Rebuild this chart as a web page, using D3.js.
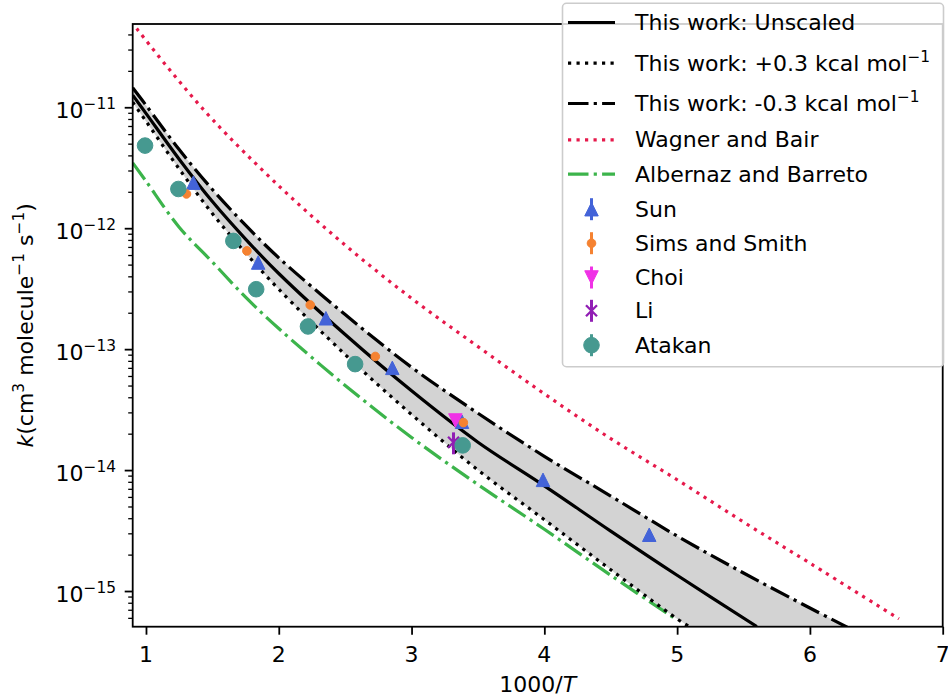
<!DOCTYPE html>
<html><head><meta charset="utf-8">
<script src="https://cdn.jsdelivr.net/npm/d3@7"></script>
<style>
body{margin:0;background:#fff}
svg{display:block}
text{font-family:"DejaVu Sans",sans-serif;fill:#000}
</style>
</head><body>
<svg id="chart" width="948" height="696"></svg>
<script>
// ---------------- data ----------------
const xTickValues = [1, 2, 3, 4, 5, 6, 7];
const yTickExponents = [-11, -12, -13, -14, -15];

const unscaledX = [0.9, 1.0, 1.25, 1.5, 1.75, 2.0, 2.5, 3.0, 3.5, 4.0, 4.5, 5.0, 5.6];
const unscaledK = [1.26e-11, 8.91e-12, 3.72e-12, 1.66e-12, 8.13e-13, 4.22e-13, 1.32e-13, 4.52e-14, 1.70e-14, 7.41e-15, 3.13e-15, 1.35e-15, 5.09e-16];

const plusX = [0.9, 1.0, 1.25, 1.5, 1.75, 2.0, 2.5, 3.0, 3.5, 4.0, 4.5, 5.0, 5.1];
const plusK = [1.10e-11, 7.67e-12, 3.09e-12, 1.32e-12, 6.24e-13, 3.13e-13, 9.02e-14, 2.88e-14, 1.00e-14, 3.89e-15, 1.50e-15, 5.89e-16, 5.01e-16];

const minusX = [0.9, 1.0, 1.25, 1.5, 1.75, 2.0, 2.5, 3.0, 3.5, 4.0, 4.5, 5.0, 5.5, 6.0, 6.3];
const minusK = [1.45e-11, 1.04e-11, 4.47e-12, 2.09e-12, 1.06e-12, 5.69e-13, 1.93e-13, 7.08e-14, 2.95e-14, 1.30e-14, 6.10e-15, 2.85e-15, 1.41e-15, 7.24e-16, 4.90e-16];

const wagnerX = [0.93, 1.2, 1.5, 2.0, 2.5, 3.0, 3.5, 4.0, 4.5, 5.0, 5.5, 6.0, 6.67];
const wagnerK = [4.47e-11, 1.91e-11, 7.94e-12, 2.24e-12, 7.24e-13, 2.63e-13, 1.05e-13, 4.27e-14, 1.82e-14, 8.32e-15, 3.72e-15, 1.70e-15, 5.89e-16];

const albernazX = [0.9, 1.0, 1.25, 1.5, 1.75, 2.0, 2.5, 3.0, 3.5, 4.0, 4.5, 5.0];
const albernazK = [3.47e-12, 2.45e-12, 1.02e-12, 5.25e-13, 2.69e-13, 1.48e-13, 5.01e-14, 1.86e-14, 7.59e-15, 3.24e-15, 1.35e-15, 5.75e-16];

const sunX = [1.357, 1.845, 2.355, 2.855, 3.38, 3.99, 4.79];
const sunK = [2.38e-12, 5.2e-13, 1.8e-13, 7.0e-14, 2.51e-14, 8.3e-15, 2.92e-15];

const simsX = [1.305, 1.76, 2.237, 2.727, 3.39];
const simsK = [1.92e-12, 6.49e-13, 2.32e-13, 8.7e-14, 2.47e-14];

const choiX = [3.33];
const choiK = [2.57e-14];

const liX = [3.316];
const liK = [1.7e-14];
const liErr = [0.35e-14];

const atakanX = [0.993, 1.244, 1.658, 1.83, 2.22, 2.575, 3.385];
const atakanK = [4.82e-12, 2.11e-12, 7.85e-13, 3.13e-13, 1.54e-13, 7.52e-14, 1.60e-14];

// ---------------- layout ----------------
const L = 132.7, R = 942.7, T = 24, B = 626.7;
const FS = 22;

const svg = d3.select("#chart");
const x = d3.scaleLinear().domain([0.9, 7]).range([L, R]);
const y = d3.scaleLog().domain([5.07e-16, 4.88e-11]).range([B, T]);

const zip = (xs, ks) => xs.map((v, i) => [v, ks[i]]);
const CURVE = d3.curveCatmullRom.alpha(0.5);

svg.append("defs").append("clipPath").attr("id", "plotclip")
  .append("rect").attr("x", L).attr("y", T).attr("width", R - L).attr("height", B - T);

const plot = svg.append("g").attr("clip-path", "url(#plotclip)");

// shaded band between +0.3 and -0.3 curves (even-odd of two areas)
const areaGen = d3.area().x(d => x(d[0])).y0(B + 30).y1(d => y(d[1])).curve(CURVE);
plot.append("path")
  .attr("d", areaGen(zip(minusX, minusK)) + areaGen(zip(plusX, plusK)))
  .attr("fill", "#d3d3d3").attr("fill-rule", "evenodd");

const lineGen = d3.line().x(d => x(d[0])).y(d => y(d[1])).curve(CURVE);
const LW = 3.2;
const DOT = "3.2,5.3";
const DASHDOT = "20.5,5.2,3.2,5.2";

const curves = [
  {xs: albernazX, ks: albernazK, color: "#3cb44b", dash: DASHDOT},
  {xs: wagnerX, ks: wagnerK, color: "#e6194b", dash: DOT},
  {xs: unscaledX, ks: unscaledK, color: "#000", dash: null},
  {xs: plusX, ks: plusK, color: "#000", dash: DOT},
  {xs: minusX, ks: minusK, color: "#000", dash: DASHDOT}
];
curves.forEach(c => {
  plot.append("path").attr("d", lineGen(zip(c.xs, c.ks)))
    .attr("fill", "none").attr("stroke", c.color).attr("stroke-width", LW)
    .attr("stroke-dasharray", c.dash);
});

// ---------------- markers ----------------
function triUp(s) { return `M0,${-s/2}L${s/2},${s/2}L${-s/2},${s/2}Z`; }
function triDown(s) { return `M0,${s/2}L${s/2},${-s/2}L${-s/2},${-s/2}Z`; }
function circ(r) { return `M${r},0A${r},${r} 0 1,1 ${-r},0A${r},${r} 0 1,1 ${r},0Z`; }
function cross(s) { const h = s/2; return `M${-h},${-h}L${h},${h}M${-h},${h}L${h},${-h}`; }

const markerStyles = {
  sun: {color: "#4363d8", d: triUp(13.5), fill: true},
  sims: {color: "#f58231", d: circ(4.3), fill: true},
  choi: {color: "#f032e6", d: triDown(13.5), fill: true},
  li: {color: "#911eb4", d: cross(11), fill: false},
  atakan: {color: "#469990", d: circ(7.8), fill: true}
};

function drawMarker(g, st) {
  g.append("path").attr("d", st.d)
    .attr("fill", st.fill ? st.color : "none")
    .attr("stroke", st.color).attr("stroke-width", st.fill ? 1 : 2.3);
}

const pts = svg.append("g");
function drawSeries(xs, ks, st, errs) {
  xs.forEach((xv, i) => {
    if (errs) {
      pts.append("line").attr("x1", x(xv)).attr("x2", x(xv))
        .attr("y1", y(ks[i] + errs[i])).attr("y2", y(ks[i] - errs[i]))
        .attr("stroke", st.color).attr("stroke-width", 3);
    }
    const g = pts.append("g").attr("transform", `translate(${x(xv)},${y(ks[i])})`);
    drawMarker(g, st);
  });
}
drawSeries(sunX, sunK, markerStyles.sun);
drawSeries(simsX, simsK, markerStyles.sims);
drawSeries(choiX, choiK, markerStyles.choi);
drawSeries(liX, liK, markerStyles.li, liErr);
drawSeries(atakanX, atakanK, markerStyles.atakan);

// ---------------- axes ----------------
const axG = svg.append("g");
const xAxis = d3.axisBottom(x).tickValues(xTickValues).tickSize(8).tickPadding(0).tickFormat("");
axG.append("g").attr("transform", `translate(0,${B})`).call(xAxis)
  .call(g => g.select(".domain").remove())
  .call(g => g.selectAll("line").attr("stroke", "#000").attr("stroke-width", 1.8));
xTickValues.forEach(v => {
  axG.append("text").attr("x", x(v)).attr("y", 661.5).attr("text-anchor", "middle")
    .attr("font-size", FS).text(String(v));
});

const yMajor = yTickExponents.map(e => Math.pow(10, e));
const yAxisMajor = d3.axisLeft(y).tickValues(yMajor).tickSize(8).tickFormat("");
axG.append("g").attr("transform", `translate(${L},0)`).call(yAxisMajor)
  .call(g => g.select(".domain").remove())
  .call(g => g.selectAll("line").attr("stroke", "#000").attr("stroke-width", 1.8));
const minors = [];
for (let e = -16; e <= -11; e++) for (let m = 2; m <= 9; m++) {
  const v = m * Math.pow(10, e);
  if (v >= y.domain()[0] && v <= y.domain()[1]) minors.push(v);
}
const yAxisMinor = d3.axisLeft(y).tickValues(minors).tickSize(4.5).tickFormat("");
axG.append("g").attr("transform", `translate(${L},0)`).call(yAxisMinor)
  .call(g => g.select(".domain").remove())
  .call(g => g.selectAll("line").attr("stroke", "#000").attr("stroke-width", 1.3));

function richText(t, parts, supShift) {
  let up = 0;
  parts.forEach(([txt, kind]) => {
    const ts = t.append("tspan").text(txt);
    if (kind === "s") {
      ts.attr("font-size", FS * 0.7);
      if (up === 0) { ts.attr("dy", -supShift); up = supShift; }
    } else {
      if (up !== 0) { ts.attr("dy", up); up = 0; }
      if (kind === "i") ts.attr("font-style", "italic");
    }
  });
}

yTickExponents.forEach(e => {
  const t = axG.append("text").attr("x", 116).attr("y", y(Math.pow(10, e)) + 10.5)
    .attr("text-anchor", "end").attr("font-size", FS);
  richText(t, [["10", "n"], ["\u2212" + Math.abs(e), "s"]], 9);
});

svg.append("rect").attr("x", L).attr("y", T).attr("width", R - L).attr("height", B - T)
  .attr("fill", "none").attr("stroke", "#000").attr("stroke-width", 1.8);

const xl = svg.append("text").attr("x", (L + R) / 2).attr("y", 692).attr("text-anchor", "middle").attr("font-size", FS);
richText(xl, [["1000/", "n"], ["T", "i"]], 9);

const yl = svg.append("text").attr("transform", `translate(33,${(T + B) / 2}) rotate(-90)`)
  .attr("text-anchor", "middle").attr("font-size", FS);
richText(yl, [["k", "i"], ["(cm", "n"], ["3", "s"], [" molecule", "n"], ["\u22121", "s"], [" s", "n"], ["\u22121", "s"], [")", "n"]], 9);

// ---------------- legend ----------------
const legendItems = [
  {label: [["This work: Unscaled", "n"]], type: "line", color: "#000", dash: null},
  {label: [["This work: +0.3 kcal mol", "n"], ["\u22121", "s"]], type: "line", color: "#000", dash: DOT},
  {label: [["This work: -0.3 kcal mol", "n"], ["\u22121", "s"]], type: "line", color: "#000", dash: DASHDOT},
  {label: [["Wagner and Bair", "n"]], type: "line", color: "#e6194b", dash: DOT},
  {label: [["Albernaz and Barreto", "n"]], type: "line", color: "#3cb44b", dash: DASHDOT},
  {label: [["Sun", "n"]], type: "marker", st: markerStyles.sun},
  {label: [["Sims and Smith", "n"]], type: "marker", st: markerStyles.sims},
  {label: [["Choi", "n"]], type: "marker", st: markerStyles.choi},
  {label: [["Li", "n"]], type: "marker", st: markerStyles.li},
  {label: [["Atakan", "n"]], type: "marker", st: markerStyles.atakan}
];
const legendBaselines = [30, 70.7, 111, 147.3, 181.7, 216.7, 250.7, 285, 318.3, 352.7];

const lg = svg.append("g");
lg.append("rect").attr("x", 562.5).attr("y", 3.3).attr("width", 381).attr("height", 363.4)
  .attr("rx", 4).attr("fill", "#fff").attr("fill-opacity", 0.8)
  .attr("stroke", "#cccccc").attr("stroke-width", 1.6);

legendItems.forEach((it, i) => {
  const bl = legendBaselines[i];
  const cy = bl - 7.5;
  if (it.type === "line") {
    lg.append("line").attr("x1", 568).attr("x2", 615).attr("y1", cy).attr("y2", cy)
      .attr("stroke", it.color).attr("stroke-width", LW).attr("stroke-dasharray", it.dash);
  } else {
    lg.append("line").attr("x1", 591.5).attr("x2", 591.5).attr("y1", cy - 11).attr("y2", cy + 11)
      .attr("stroke", it.st.color).attr("stroke-width", 3);
    const g = lg.append("g").attr("transform", `translate(591.5,${cy})`);
    drawMarker(g, it.st);
  }
  const t = lg.append("text").attr("x", 635).attr("y", bl).attr("font-size", FS);
  richText(t, it.label, 9);
});
</script>
</body></html>
